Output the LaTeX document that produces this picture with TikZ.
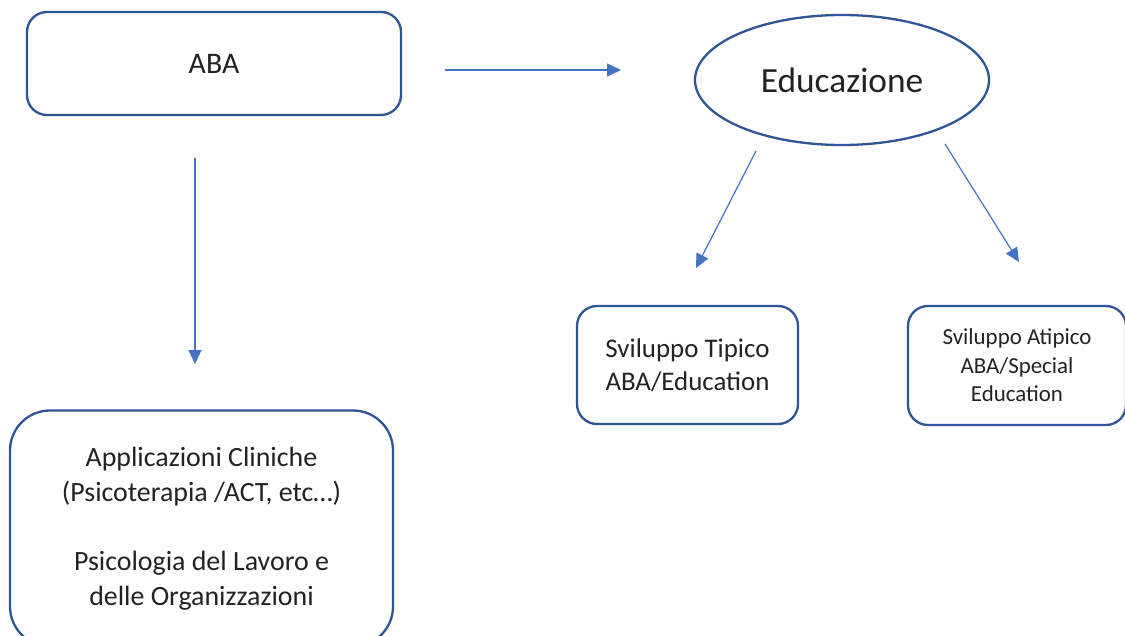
\documentclass[tikz,border=0pt]{standalone}
\usepackage{fontspec}
\setmainfont{Carlito}
\usetikzlibrary{arrows.meta,shapes.geometric}
\definecolor{boxblue}{HTML}{2F5597}
\definecolor{arrowblue}{HTML}{4472C4}
\definecolor{txt}{HTML}{222222}
\tikzset{
  box/.style={draw=boxblue, line width=2.3bp, rounded corners=#1, align=center, text=txt, inner sep=0pt},
  box/.default=15bp,
  oval/.style={draw=boxblue, line width=2.3bp, ellipse, inner sep=0pt, text=txt},
  conn/.style={draw=arrowblue, line width=1.2bp, -{Triangle[length=14bp,width=13bp]}}
}
\begin{document}
\begin{tikzpicture}[x=1bp,y=-1bp]
\useasboundingbox (0,0) rectangle (1125,636);
\clip (0,0) rectangle (1125,636);
\node[box=20bp, minimum width=374bp, minimum height=103bp, font=\fontsize{30}{36}\selectfont] (aba) at (214,63.5) {ABA};
\node[oval, minimum width=294bp, minimum height=130bp, font=\fontsize{35.5}{42}\selectfont] (edu) at (842,80) {Educazione};
\node[box=40bp, minimum width=383bp, minimum height=236bp, font=\fontsize{28}{34.8}\selectfont] (clin) at (201.5,528.5) {Applicazioni Cliniche\\(Psicoterapia /ACT, etc…)\\[34.8bp]Psicologia del Lavoro e\\delle Organizzazioni};
\node[box=20bp, minimum width=221bp, minimum height=118bp, font=\fontsize{27}{33}\selectfont] (typ) at (687.5,365) {Sviluppo Tipico\\ABA/Education};
\node[box=20bp, minimum width=218bp, minimum height=119bp, font=\fontsize{23}{28.5}\selectfont] (atyp) at (1017,365.5) {Sviluppo Atipico\\ABA/Special\\Education};
\coordinate (c1s) at (445,70);  \coordinate (c1e) at (621,70);
\coordinate (c2s) at (195,158); \coordinate (c2e) at (195,364);
\coordinate (c3s) at (756,151); \coordinate (c3e) at (696,268);
\coordinate (c4s) at (945,144); \coordinate (c4e) at (1019,262);
\draw[conn] (c1s) -- (c1e);
\draw[conn] (c2s) -- (c2e);
\draw[conn] (c3s) -- (c3e);
\draw[conn] (c4s) -- (c4e);
\end{tikzpicture}
\end{document}
